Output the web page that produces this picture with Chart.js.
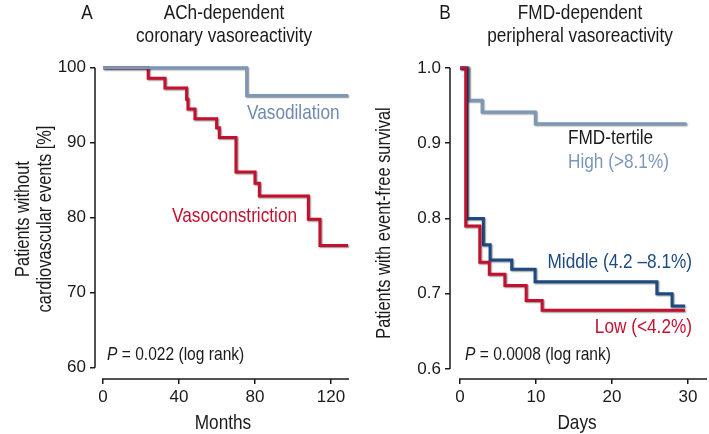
<!DOCTYPE html>
<html>
<head>
<meta charset="utf-8">
<script src="https://cdn.jsdelivr.net/npm/chart.js@4/dist/chart.umd.min.js"></script>
<style>
  html, body { margin: 0; padding: 0; background: #fff; }
  #wrap { position: relative; width: 709px; height: 434px; overflow: hidden; }
  #chartA { position: absolute; left: 0; top: 0; }
  #chartB { position: absolute; left: 360px; top: 0; }
</style>
</head>
<body>
<div id="wrap">
  <canvas id="chartA" width="360" height="434"></canvas>
  <canvas id="chartB" width="349" height="434"></canvas>
</div>
<script>
// panel A: ACh-dependent coronary vasoreactivity (Kaplan-Meier, months)
const vasodilMonths = [0, 75.6, 129];
const vasodilPct    = [100, 96.3, 96.3];
const vasoconMonths = [0, 23.8, 32.6, 44.0, 44.7, 48.4, 59.8, 61.2, 70.0, 80.0, 82.3, 108.1, 114.2, 129];
const vasoconPct    = [100, 98.6, 97.3, 95.8, 94.5, 93.2, 92.0, 90.7, 86.1, 84.6, 82.9, 79.8, 76.3, 76.3];
const monthTicks = [0, 40, 80, 120];
const pctTicks = [60, 70, 80, 90, 100];

// panel B: FMD-dependent peripheral vasoreactivity (days)
const highDays   = [0, 1.1, 2.9, 9.9, 29.8];
const highSurv   = [1.0, 0.957, 0.9415, 0.926, 0.926];
const middleDays = [0, 0.9, 3.07, 3.95, 6.8, 9.87, 25.9, 27.9, 29.6];
const middleSurv = [1.0, 0.80, 0.765, 0.745, 0.7325, 0.716, 0.700, 0.6837, 0.6837];
const lowDays    = [0, 0.75, 2.6, 3.85, 5.9, 8.7, 10.8, 29.6];
const lowSurv    = [1.0, 0.79, 0.742, 0.726, 0.711, 0.691, 0.678, 0.678];
const dayTicks = [0, 10, 20, 30];
const survTicks = [0.6, 0.7, 0.8, 0.9, 1.0];

const FONT = "'Liberation Sans', Arial, sans-serif";
const NARROW = 0.82; // horizontal squeeze to mimic a condensed face
const INK = "#1a1a1a";
const RED = "#c3102f";
const LIGHT_BLUE = "#7d97b8";
const DARK_BLUE = "#1d4a82";

function kmPoints(xs, ys) {
  return xs.map((x, i) => ({ x: x, y: ys[i] }));
}

// soft drop shadow under the survival curves
const lineShadow = {
  id: "lineShadow",
  beforeDatasetDraw(chart) {
    const ctx = chart.ctx;
    ctx.save();
    ctx.shadowColor = "rgba(0,0,0,0.45)";
    ctx.shadowOffsetX = 1;
    ctx.shadowOffsetY = 1;
    ctx.shadowBlur = 1.5;
  },
  afterDatasetDraw(chart) {
    chart.ctx.restore();
  }
};

// detached axis lines (y only between first/last tick, x from 0 to end)
const axisLines = {
  id: "axisLines",
  afterDraw(chart, args, opts) {
    const { ctx, chartArea, scales } = chart;
    const x = scales.x, y = scales.y;
    ctx.save();
    ctx.strokeStyle = INK;
    ctx.lineWidth = 1.5;
    ctx.beginPath();
    ctx.moveTo(chartArea.left, y.getPixelForValue(opts.yTop));
    ctx.lineTo(chartArea.left, y.getPixelForValue(opts.yBottom));
    ctx.moveTo(x.getPixelForValue(0) - 1, chartArea.bottom);
    ctx.lineTo(chartArea.right, chartArea.bottom);
    ctx.stroke();
    ctx.restore();
  }
};

// titles, axis titles and in-plot labels (narrowed text)
const panelText = {
  id: "panelText",
  afterDraw(chart, args, opts) {
    const ctx = chart.ctx;
    (opts.items || []).forEach(it => {
      ctx.save();
      ctx.translate(it.x, it.y);
      if (it.rotate) ctx.rotate(it.rotate);
      ctx.scale(NARROW, 1);
      ctx.fillStyle = it.color || INK;
      ctx.textBaseline = it.baseline || "alphabetic";
      const size = it.size || 21;
      const parts = it.parts || [{ text: it.text }];
      const fonts = parts.map(p => (p.italic ? "italic " : "") + size + "px " + FONT);
      let total = 0;
      parts.forEach((p, i) => { ctx.font = fonts[i]; total += ctx.measureText(p.text).width; });
      let cx = it.align === "center" ? -total / 2 : it.align === "right" ? -total : 0;
      ctx.textAlign = "left";
      parts.forEach((p, i) => {
        ctx.font = fonts[i];
        ctx.fillText(p.text, cx, 0);
        cx += ctx.measureText(p.text).width;
      });
      ctx.restore();
    });
  }
};

function makePanel(canvasId, cfg) {
  const tickFont = { family: FONT, size: 17 };
  return new Chart(document.getElementById(canvasId), {
    type: "line",
    data: {
      datasets: cfg.series.map(s => ({
        data: kmPoints(s.xs, s.ys),
        borderColor: s.color,
        borderWidth: 3,
        stepped: "before",
        pointRadius: 0,
        fill: false,
        clip: false
      }))
    },
    options: {
      responsive: false,
      animation: false,
      events: [],
      layout: { padding: { top: 64, right: cfg.padRight, left: 0, bottom: 0 } },
      plugins: {
        legend: { display: false },
        tooltip: { enabled: false },
        axisLines: { yTop: cfg.yTicks[cfg.yTicks.length - 1], yBottom: cfg.yTicks[0] },
        panelText: { items: cfg.text }
      },
      scales: {
        x: {
          type: "linear",
          min: cfg.xMin, max: cfg.xMax,
          afterBuildTicks: s => { s.ticks = cfg.xTicks.map(v => ({ value: v })); },
          afterFit: s => { s.height = 55; },
          grid: { display: true, drawOnChartArea: false, drawTicks: true, tickLength: 5, color: INK, lineWidth: 1.5 },
          border: { display: false },
          ticks: { font: tickFont, color: INK, padding: 3, maxRotation: 0 }
        },
        y: {
          type: "linear",
          min: cfg.yMin, max: cfg.yMax,
          afterBuildTicks: s => { s.ticks = cfg.yTicks.map(v => ({ value: v })); },
          afterFit: s => { s.width = cfg.yWidth; },
          grid: { display: true, drawOnChartArea: false, drawTicks: true, tickLength: 5, color: INK, lineWidth: 1.5 },
          border: { display: false },
          ticks: { font: tickFont, color: INK, padding: 4, callback: cfg.yFormat }
        }
      }
    },
    plugins: [lineShadow, axisLines, panelText]
  });
}

makePanel("chartA", {
  series: [
    { xs: vasodilMonths, ys: vasodilPct, color: LIGHT_BLUE },
    { xs: vasoconMonths, ys: vasoconPct, color: RED }
  ],
  xMin: -4.2, xMax: 129.5, xTicks: monthTicks,
  yMin: 58.5, yMax: 100.5, yTicks: pctTicks,
  yWidth: 95, padRight: 11,
  yFormat: v => String(v),
  text: [
    { text: "A", x: 87, y: 19, align: "center" },
    { text: "ACh-dependent", x: 224, y: 19, align: "center" },
    { text: "coronary vasoreactivity", x: 224, y: 42, align: "center" },
    { text: "Patients without", x: 29, y: 219, align: "center", rotate: -Math.PI / 2, size: 20 },
    { text: "cardiovascular events [%]", x: 51, y: 219, align: "center", rotate: -Math.PI / 2, size: 20 },
    { text: "Months", x: 223, y: 429, align: "center" },
    { text: "Vasodilation", x: 247, y: 119, color: "#6f8aae" },
    { text: "Vasoconstriction", x: 172, y: 222, color: RED },
    { parts: [{ text: "P", italic: true }, { text: " = 0.022 (log rank)" }], x: 107, y: 360, size: 19 }
  ]
});

makePanel("chartB", {
  series: [
    { xs: lowDays, ys: lowSurv, color: RED },
    { xs: middleDays, ys: middleSurv, color: DARK_BLUE },
    { xs: highDays, ys: highSurv, color: LIGHT_BLUE }
  ],
  xMin: -1.32, xMax: 32.5, xTicks: dayTicks,
  yMin: 0.5867, yMax: 1.0053, yTicks: survTicks,
  yWidth: 90, padRight: 2,
  yFormat: v => Number(v).toFixed(1),
  text: [
    { text: "B", x: 85, y: 19, align: "center" },
    { text: "FMD-dependent", x: 220, y: 19, align: "center" },
    { text: "peripheral vasoreactivity", x: 220, y: 42, align: "center" },
    { text: "Patients with event-free survival", x: 30, y: 223, align: "center", rotate: -Math.PI / 2, size: 20 },
    { text: "Days", x: 217, y: 429, align: "center" },
    { text: "FMD-tertile", x: 208, y: 144 },
    { text: "High (>8.1%)", x: 208, y: 168, color: LIGHT_BLUE },
    { text: "Middle (4.2 \u20138.1%)", x: 332, y: 268, align: "right", color: DARK_BLUE },
    { text: "Low (<4.2%)", x: 332, y: 333, align: "right", color: RED },
    { parts: [{ text: "P", italic: true }, { text: " = 0.0008 (log rank)" }], x: 105, y: 360, size: 19 }
  ]
});
</script>
</body>
</html>
